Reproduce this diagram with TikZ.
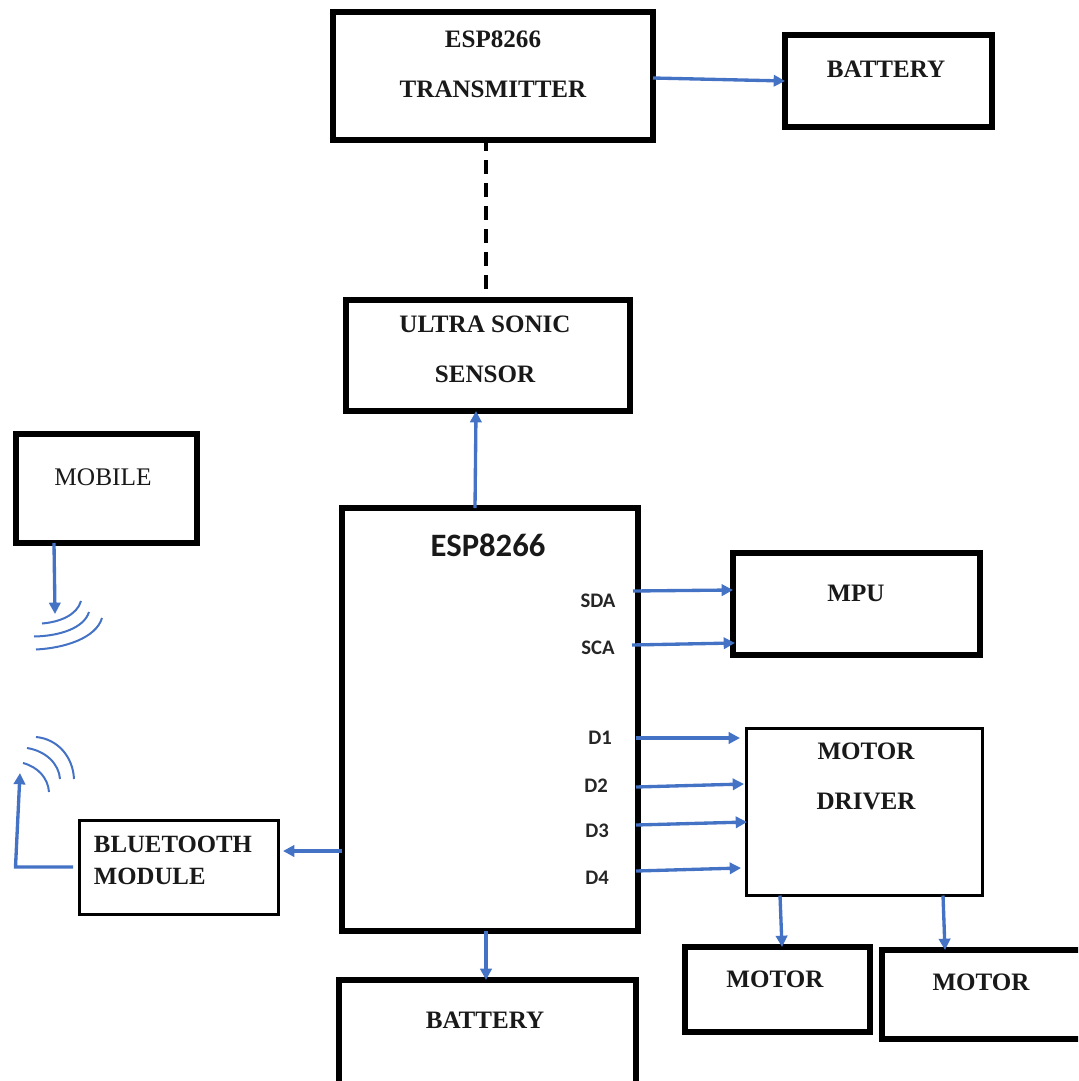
\documentclass[tikz,border=0pt]{standalone}
\usepackage{fontspec}
\setmainfont{Liberation Serif}
\newfontfamily\califont{Carlito}
\usetikzlibrary{arrows.meta}
\definecolor{wireblue}{HTML}{4472C4}
\tikzset{
  box/.style n args={2}{draw=black,line width=4.2pt,fill=white,inner sep=0pt,outer sep=0pt,minimum width=#1*0.75pt,minimum height=#2*0.75pt},
  thinbox/.style={line width=2.8pt},
  wire/.style={draw=wireblue,line width=2.5pt,-{Triangle[length=8.5pt,width=8.5pt]}},
  wave/.style={draw=wireblue,line width=1.5pt},
  dashwire/.style={draw=black,line width=3.2pt,dash pattern=on 10.5pt off 6.75pt,dash phase=2.25pt},
  title/.style={font=\bfseries\fontsize{18.8}{37.5}\selectfont,inner sep=0pt,align=center,text=black!90},
  pin/.style={font=\califont\bfseries\fontsize{15.5}{18}\selectfont,inner sep=0pt,text=black!85},
}
\begin{document}
\begin{tikzpicture}[x=0.75pt,y=-0.75pt]
\useasboundingbox (0,0) rectangle (1078,1081);
\begin{scope}
\clip (0,0) rectangle (1078,1081);
\node[box={320}{128}] (tx) at (493,76) {};
\node[box={207}{92}] (batA) at (888.5,81) {};
\node[box={284}{111}] (us) at (488,355.5) {};
\node[box={181}{109}] (mobile) at (106.5,488.5) {};
\node[box={296}{423}] (esp) at (490,719.5) {};
\node[box={247}{102}] (mpu) at (856.5,604) {};
\node[box={236}{167},thinbox] (drv) at (864.5,812) {};
\node[box={199}{94},thinbox] (bt) at (179,867.5) {};
\node[box={297}{109}] (batB) at (487.5,1034.5) {};
\node[box={185}{85}] (mA) at (777.5,989.5) {};
\node[box={207}{89}] (mB) at (985.5,994.5) {};
\end{scope}

\node[title] (ttx) at (493,64) {ESP8266\\TRANSMITTER};
\node[title] (tbatA) at (886,69) {BATTERY};
\node[title] (tus) at (485,349) {ULTRA SONIC\\SENSOR};
\node[title,font=\fontsize{19}{23}\selectfont] (tmobile) at (103,477) {MOBILE};
\node[title,font=\califont\bfseries\fontsize{24.5}{28}\selectfont] (tesp) at (488,545) {ESP8266};
\node[title] (tmpu) at (856,593) {MPU};
\node[title] (tdrv) at (866,776) {MOTOR\\DRIVER};
\node[title,align=left,font=\bfseries\fontsize{18.6}{24}\selectfont] (tbt) at (173,860) {BLUETOOTH\\MODULE};
\node[title] (tbatB) at (485,1020) {BATTERY};
\node[title] (tmA) at (775,979) {MOTOR};
\node[title] (tmB) at (981,982) {MOTOR};

\node[pin] (sda) at (598,601) {SDA};
\node[pin] (sca) at (598,648) {SCA};
\node[pin] (dA) at (600,738) {D1};
\node[pin] (dB) at (596,786) {D2};
\node[pin] (dC) at (597,831) {D3};
\node[pin] (dD) at (597,878) {D4};

\draw[wire] (tx.east |- 0,78) -- (785,81);
\draw[dashwire] (486,0 |- tx.south) -- (486,289);
\draw[wire] (475,0 |- esp.north) -- (476,0 |- us.south);
\draw[wire] (54,0 |- mobile.south) -- (55,614);

\draw[wire] (633,591) -- (733,590);
\draw[wire] (632,645) -- (735,643);
\draw[wire] (636,738) -- (740,738);
\draw[wire] (636,787) -- (744,784);
\draw[wire] (636,825) -- (747,822);
\draw[wire] (636,871) -- (741,868);

\draw[wire] (esp.west |- 0,851) -- (283,851);
\draw[wire] (486,0 |- esp.south) -- (486,0 |- batB.north);
\draw[wire] (780,0 |- drv.south) -- (782,0 |- mA.north);
\draw[wire] (943,0 |- drv.south) -- (945,0 |- mB.north);
\draw[wire] (73,867) -- (15.5,867) -- (20,773);

\draw[wave] (42,623.5) .. controls (60,622) and (77,615) .. (81,601);
\draw[wave] (34,636.5) .. controls (60,636) and (84,628) .. (89,612);
\draw[wave] (36,649.5) .. controls (65,648) and (96,638) .. (102,618);
\draw[wave] (23,763) .. controls (38,767) and (48,778) .. (49,792);
\draw[wave] (27,748) .. controls (46,751) and (59,764) .. (60,779);
\draw[wave] (36,737) .. controls (58,739) and (73,757) .. (74,779);
\end{tikzpicture}
\end{document}
